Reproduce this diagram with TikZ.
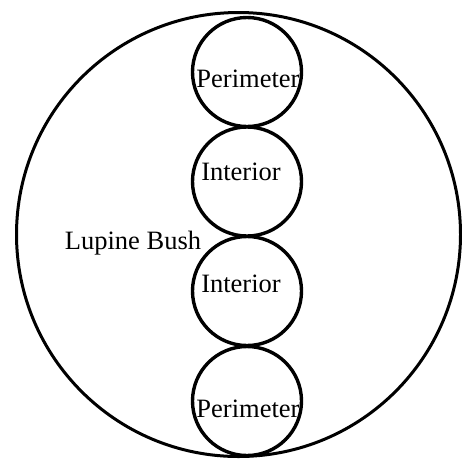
\documentclass[tikz,border=0pt]{standalone}
\usepackage{fontspec}
\setmainfont{Liberation Serif}
\begin{document}
\begin{tikzpicture}[x=1pt,y=-1pt,
  bigcirc/.style={circle,draw,line width=3pt,minimum size=444pt,inner sep=0pt,outer sep=0pt},
  smallcirc/.style={circle,draw,line width=3.4pt,minimum size=109pt,inner sep=0pt,outer sep=0pt},
  lbl/.style={font=\fontsize{26.5}{30}\selectfont,inner sep=0pt,anchor=base}]
\useasboundingbox (0,0) rectangle (462,459);
\node[bigcirc] (bush) at (238.5,234.5) {};
\node[smallcirc] (p1) at (247,72) {};
\node[smallcirc] (i1) at (247,181.5) {};
\node[smallcirc] (i2) at (247,291) {};
\node[smallcirc] (p2) at (247,401) {};
\node[lbl] (tp1) at (248,87) {Perimeter};
\node[lbl] (ti1) at (241,180) {Interior};
\node[lbl] (ti2) at (241,292) {Interior};
\node[lbl] (tp2) at (248,417) {Perimeter};
\node[lbl] (tb) at (133,249) {Lupine Bush};
\end{tikzpicture}
\end{document}
